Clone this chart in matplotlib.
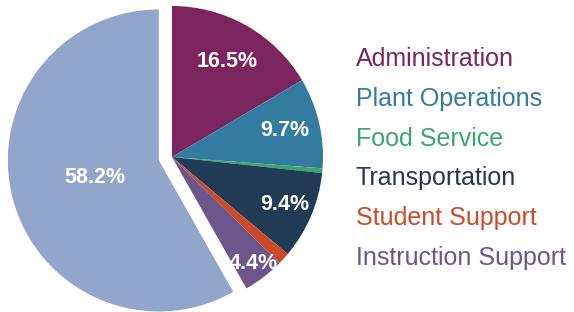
import matplotlib.pyplot as plt

categories = ['Administration', 'Plant Operations', 'Food Service', 'Transportation',
              'Student Support', 'Instruction Support', 'Instruction']
shares = [16.5, 9.7, 0.5, 9.4, 1.3, 4.4, 58.2]
colors = ['#7b245d', '#347ba0', '#3aa76d', '#213a55', '#cc4a28', '#6c568c', '#92a6cb']
explode = [0, 0, 0, 0, 0, 0, 0.09]
legend_names = categories[:6]

plt.rcParams['font.family'] = ['Liberation Sans', 'DejaVu Sans']

fig = plt.figure(figsize=(5.74, 3.12), dpi=100)
ax = fig.add_axes([0, 0, 1, 1])

def fmt(p):
    return '%.1f%%' % p if p > 3 else ''

wedges, texts, autotexts = ax.pie(shares, colors=colors, explode=explode, startangle=90,
                                  counterclock=False, radius=1, autopct=fmt,
                                  pctdistance=0.77,
                                  wedgeprops=dict(linewidth=0),
                                  textprops=dict(color='white', fontsize=15.5, fontweight='bold'))

# small slice labels sit further out, big slice label closer in
scale = {0: 0.95, 3: 1.05, 5: 1.15, 6: 0.57}
for i, k in scale.items():
    x, y = autotexts[i].get_position()
    ox = explode[i] * (x / (x ** 2 + y ** 2) ** 0.5)
    oy = explode[i] * (y / (x ** 2 + y ** 2) ** 0.5)
    autotexts[i].set_position(((x - ox) * k + ox, (y - oy) * k + oy))

cx, cy, r = 172, 157, 151
ax.set_xlim(-cx / r, (574 - cx) / r)
ax.set_ylim(-(312 - cy) / r, cy / r)
ax.axis('off')

for i, name in enumerate(legend_names):
    ax.text(356 / 574, 1 - (59 + i * 39.8) / 312, name, transform=ax.transAxes,
            color=colors[i], fontsize=18, va='center', ha='left')

fig.savefig('out.png', dpi=100)
